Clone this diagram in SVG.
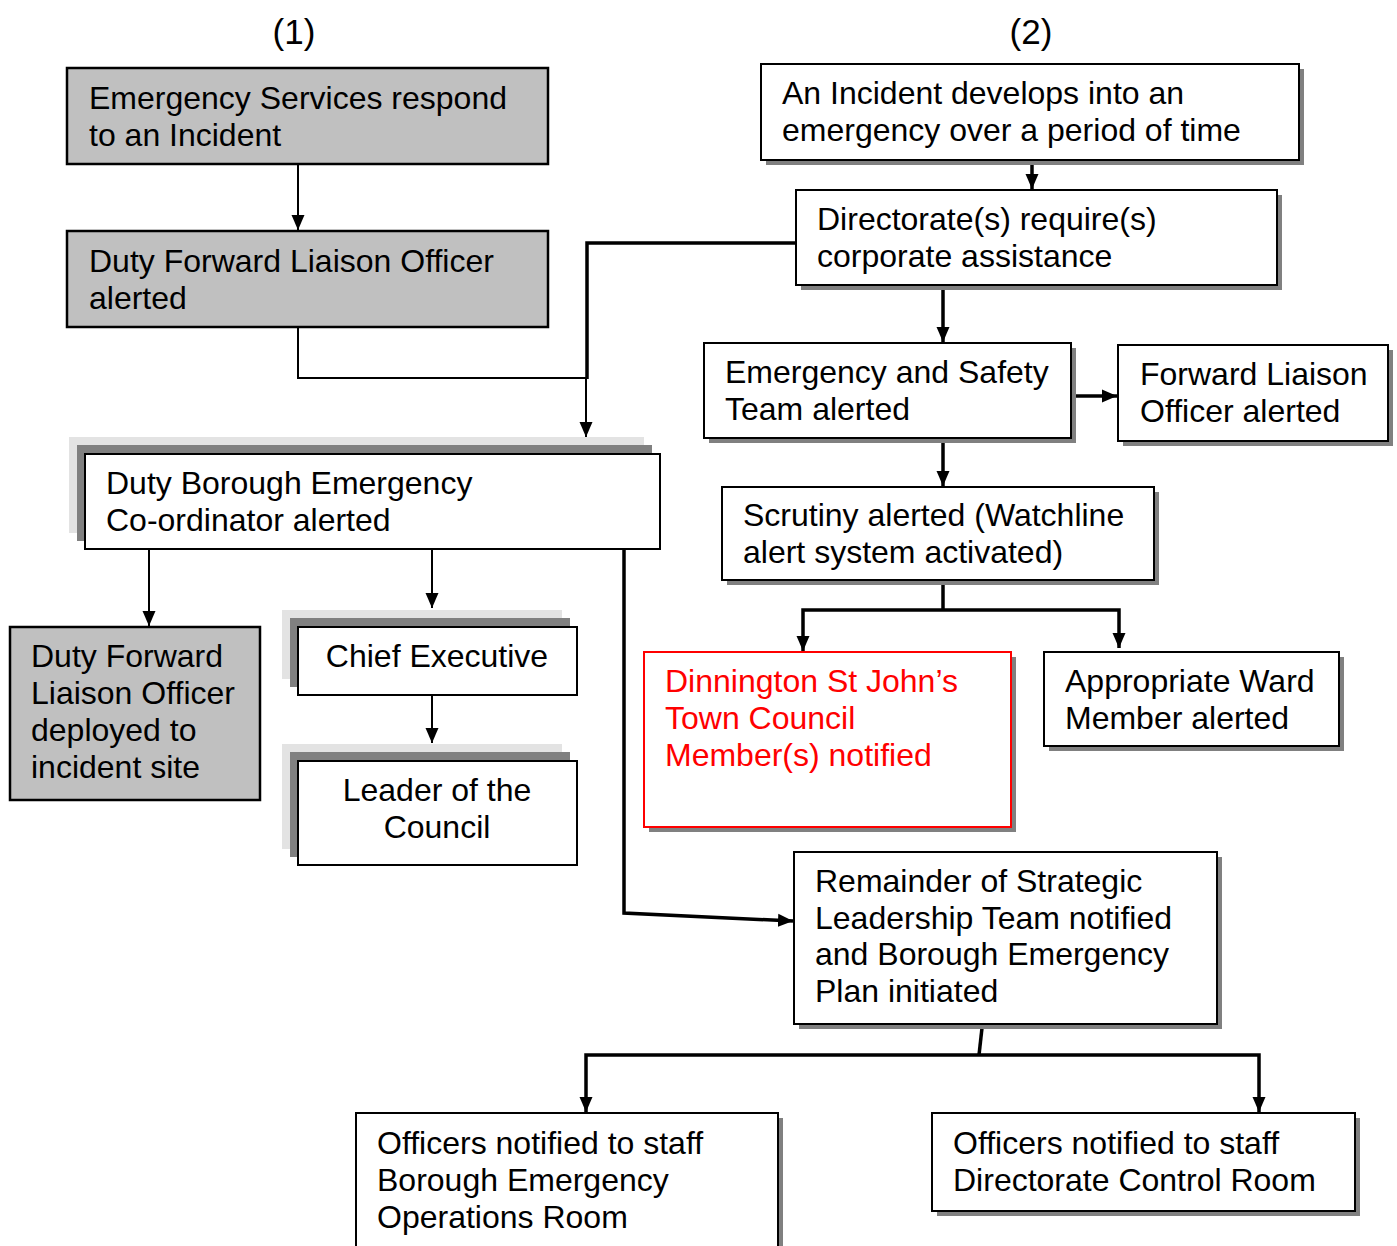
<svg xmlns="http://www.w3.org/2000/svg" width="1397" height="1246" viewBox="0 0 1397 1246">
<defs>
<style>
text{font-family:"Liberation Sans",Arial,sans-serif;font-size:32px;fill:#000}
.hd{font-size:35px}
.gray{fill:#c0c0c0;stroke:#000;stroke-width:2.5}
.box{fill:#fff;stroke:#000;stroke-width:2}
.red{fill:#fff;stroke:#ff0000;stroke-width:2}
.sh{fill:#808080}
.sh2{fill:#e3e3e3}
.rt{fill:#ff0000}
.c{fill:none;stroke:#000;stroke-width:2}
.ct{fill:none;stroke:#000;stroke-width:3.5}
</style>
<marker id="ah" markerUnits="userSpaceOnUse" markerWidth="16" markerHeight="14" refX="15" refY="6.5" orient="auto" viewBox="0 0 16 13">
<path d="M0,0 L15,6.5 L0,13 z" fill="#000"/>
</marker>
</defs>
<rect width="1397" height="1246" fill="#fff"/>
<text class="hd" x="294" y="44" text-anchor="middle">(1)</text>
<text class="hd" x="1031" y="44" text-anchor="middle">(2)</text>

<g id="connectors">
<path class="c" d="M298,164 V230" marker-end="url(#ah)"/>
<path class="c" d="M298,327 V378 H586"/>
<path class="c" d="M586,378 V437" marker-end="url(#ah)"/>
<path class="ct" d="M796,243 H587 V379"/>
<path class="c" d="M149,549 V626" marker-end="url(#ah)"/>
<path class="c" d="M432,549 V608" marker-end="url(#ah)"/>
<path class="c" d="M432,696 V743" marker-end="url(#ah)"/>
<path class="ct" d="M624,549 V913 L793,921" marker-end="url(#ah)"/>
<path class="ct" d="M1032,164 V189" marker-end="url(#ah)"/>
<path class="ct" d="M943,290 V342" marker-end="url(#ah)"/>
<path class="ct" d="M1076,396 H1117" marker-end="url(#ah)"/>
<path class="ct" d="M943,443 V486" marker-end="url(#ah)"/>
<path class="ct" d="M943,584 V610"/>
<path class="ct" d="M943,610 H803 V651" marker-end="url(#ah)"/>
<path class="ct" d="M943,610 H1119 V648" marker-end="url(#ah)"/>
<path class="ct" d="M982,1028 L979,1055"/>
<path class="ct" d="M979,1055 H586 V1112" marker-end="url(#ah)"/>
<path class="ct" d="M979,1055 H1259 V1112" marker-end="url(#ah)"/>
</g>

<g id="n1">
<rect class="gray" x="67" y="68" width="481" height="96"/>
<text x="89" y="109">Emergency Services respond</text>
<text x="89" y="146">to an Incident</text>
</g>
<g id="n2">
<rect class="gray" x="67" y="231" width="481" height="96"/>
<text x="89" y="272">Duty Forward Liaison Officer</text>
<text x="89" y="309">alerted</text>
</g>
<g id="n3">
<rect class="sh2" x="69" y="437" width="575" height="96"/>
<rect class="sh" x="77" y="445" width="575" height="96"/>
<rect class="box" x="85" y="454" width="575" height="95"/>
<text x="106" y="494">Duty Borough Emergency</text>
<text x="106" y="531">Co-ordinator alerted</text>
</g>
<g id="n4">
<rect class="gray" x="10" y="627" width="250" height="173"/>
<text x="31" y="667">Duty Forward</text>
<text x="31" y="704">Liaison Officer</text>
<text x="31" y="741">deployed to</text>
<text x="31" y="778">incident site</text>
</g>
<g id="n5">
<rect class="sh2" x="282" y="610" width="280" height="69"/>
<rect class="sh" x="290" y="618" width="280" height="69"/>
<rect class="box" x="298" y="627" width="279" height="68"/>
<text x="437" y="667" text-anchor="middle">Chief Executive</text>
</g>
<g id="n6">
<rect class="sh2" x="282" y="744" width="280" height="105"/>
<rect class="sh" x="290" y="752" width="280" height="105"/>
<rect class="box" x="298" y="761" width="279" height="104"/>
<text x="437" y="801" text-anchor="middle">Leader of the</text>
<text x="437" y="838" text-anchor="middle">Council</text>
</g>
<g id="n7">
<rect class="sh" x="766" y="69" width="538" height="96"/>
<rect class="box" x="761" y="64" width="538" height="96"/>
<text x="782" y="104">An Incident develops into an</text>
<text x="782" y="141">emergency over a period of time</text>
</g>
<g id="n8">
<rect class="sh" x="801" y="195" width="481" height="95"/>
<rect class="box" x="796" y="190" width="481" height="95"/>
<text x="817" y="230">Directorate(s) require(s)</text>
<text x="817" y="267">corporate assistance</text>
</g>
<g id="n9">
<rect class="sh" x="709" y="348" width="367" height="95"/>
<rect class="box" x="704" y="343" width="367" height="95"/>
<text x="725" y="383">Emergency and Safety</text>
<text x="725" y="420">Team alerted</text>
</g>
<g id="n10">
<rect class="sh" x="1123" y="350" width="270" height="96"/>
<rect class="box" x="1118" y="345" width="270" height="96"/>
<text x="1140" y="385">Forward Liaison</text>
<text x="1140" y="422">Officer alerted</text>
</g>
<g id="n11">
<rect class="sh" x="727" y="492" width="432" height="93"/>
<rect class="box" x="722" y="487" width="432" height="93"/>
<text x="743" y="526">Scrutiny alerted (Watchline</text>
<text x="743" y="563">alert system activated)</text>
</g>
<g id="n12">
<rect class="sh" x="649" y="657" width="367" height="175"/>
<rect class="red" x="644" y="652" width="367" height="175"/>
<text class="rt" x="665" y="692">Dinnington St John’s</text>
<text class="rt" x="665" y="729">Town Council</text>
<text class="rt" x="665" y="766">Member(s) notified</text>
</g>
<g id="n13">
<rect class="sh" x="1049" y="657" width="295" height="94"/>
<rect class="box" x="1044" y="652" width="295" height="94"/>
<text x="1065" y="692">Appropriate Ward</text>
<text x="1065" y="729">Member alerted</text>
</g>
<g id="n14">
<rect class="sh" x="799" y="857" width="423" height="172"/>
<rect class="box" x="794" y="852" width="423" height="172"/>
<text x="815" y="892">Remainder of Strategic</text>
<text x="815" y="929">Leadership Team notified</text>
<text x="815" y="965">and Borough Emergency</text>
<text x="815" y="1002">Plan initiated</text>
</g>
<g id="n15">
<rect class="sh" x="361" y="1118" width="422" height="140"/>
<rect class="box" x="356" y="1113" width="422" height="140"/>
<text x="377" y="1154">Officers notified to staff</text>
<text x="377" y="1191">Borough Emergency</text>
<text x="377" y="1228">Operations Room</text>
</g>
<g id="n16">
<rect class="sh" x="937" y="1118" width="423" height="98"/>
<rect class="box" x="932" y="1113" width="423" height="98"/>
<text x="953" y="1154">Officers notified to staff</text>
<text x="953" y="1191">Directorate Control Room</text>
</g>
</svg>
